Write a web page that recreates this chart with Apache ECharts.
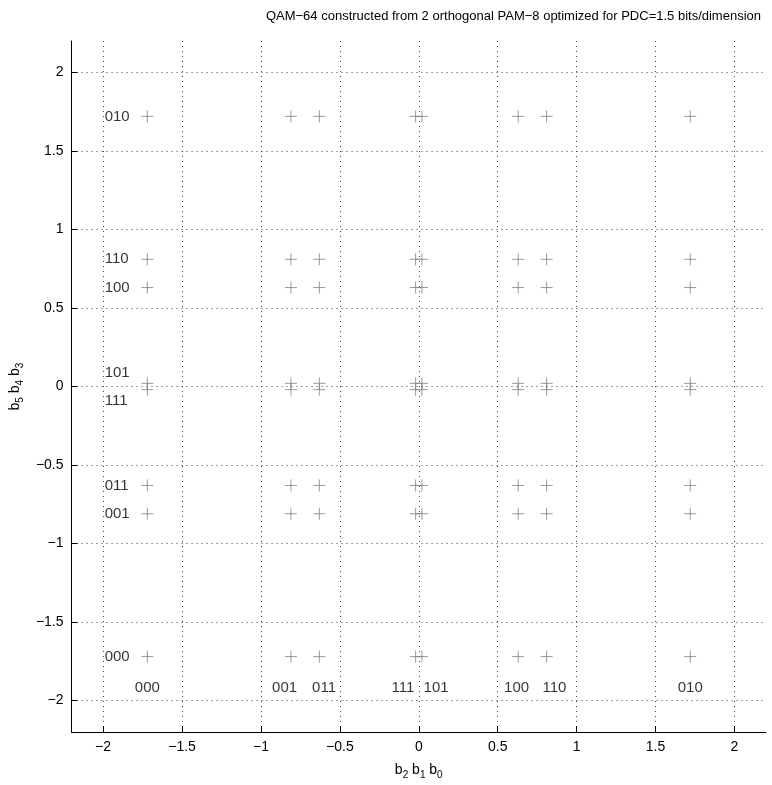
<!DOCTYPE html>
<html lang="en">
<head>
	<meta charset="UTF-8">
	<title>QAM-64 from 2 PAM-8</title>
	<script src="https://cdn.jsdelivr.net/npm/echarts@6/dist/echarts.min.js"></script>
	<style>
		html, body { margin: 0; padding: 0; background: #fff; }
	</style>
</head>
<body>
	<div id="main" style="width: 772px;height:785px;"></div>
	<script type="text/javascript">
	// PAM-8 levels, same on both dimensions
	var pamLevels = [-1.72, -0.81, -0.63, -0.02, 0.02, 0.63, 0.81, 1.72];
	// gray code of each level (b2 b1 b0 for x, b5 b4 b3 for y)
	var grayCodes = ['000', '001', '011', '111', '101', '100', '110', '010'];
	var tickValues = [-2, -1.5, -1, -0.5, 0, 0.5, 1, 1.5, 2];
	// where the code labels sit
	var rowLabelY = [-1.72, -0.81, -0.63, -0.09, 0.09, 0.63, 0.81, 1.72];
	var colLabelX = [-1.72, -0.85, -0.6, -0.1, 0.11, 0.62, 0.86, 1.72];

	var myChart = echarts.init(document.getElementById('main'));

	var points = [];
	pamLevels.forEach(function (x) {
		pamLevels.forEach(function (y) {
			points.push([x, y]);
		});
	});

	var rowLabels = grayCodes.map(function (c, i) { return { value: [-1.99, rowLabelY[i]], name: c }; });
	var colLabels = grayCodes.map(function (c, i) { return { value: [colLabelX[i], -1.92], name: c }; });

	var font = 'Liberation Sans, Arial, sans-serif';
	function fmt(v) { return String(v).replace('-', '\u2212'); }

	var axisCommon = {
		type: 'value',
		min: -2.2,
		max: 2.2,
		axisLine: { onZero: false, lineStyle: { color: '#000', width: 1 } },
		axisTick: { inside: true, length: 6, customValues: tickValues, lineStyle: { color: '#000' } },
		axisLabel: { customValues: tickValues, formatter: fmt, color: '#000', fontSize: 14, fontFamily: font },
		splitLine: { show: true, lineStyle: { color: '#444', type: [1, 4], width: 1 } },
		nameLocation: 'middle',
		nameTextStyle: {
			color: '#000', fontSize: 14, fontFamily: font,
			rich: { s: { fontSize: 10, fontFamily: font, color: '#000', padding: [10, 0, 0, 0] } }
		}
	};

	var option = {
		animation: false,
		backgroundColor: '#fff',
		title: {
			text: 'QAM\u221264 constructed from 2 orthogonal PAM\u22128 optimized for PDC=1.5 bits/dimension',
			right: 6,
			top: 5,
			textStyle: { color: '#000', fontSize: 13, fontWeight: 'normal', fontFamily: font }
		},
		grid: { left: 70, right: 6, top: 41, bottom: 48 },
		xAxis: Object.assign({}, axisCommon, {
			name: 'b{s|2} b{s|1} b{s|0}',
			nameGap: 28
		}),
		yAxis: Object.assign({}, axisCommon, {
			name: 'b{s|5} b{s|4} b{s|3}',
			nameGap: 36,
			nameRotate: 90
		}),
		series: [
			{
				type: 'scatter',
				data: points,
				symbol: 'path://M5,0L5,10M0,5L10,5',
				symbolSize: 12,
				itemStyle: { color: 'none', borderColor: '#808080', borderWidth: 1 }
			},
			{
				type: 'scatter',
				data: rowLabels,
				symbolSize: 0,
				label: {
					show: true, position: 'inside', align: 'left', verticalAlign: 'middle',
					formatter: '{b}', color: '#000', fontSize: 15, fontFamily: font
				}
			},
			{
				type: 'scatter',
				data: colLabels,
				symbolSize: 0,
				label: {
					show: true, position: 'inside', align: 'center', verticalAlign: 'middle',
					formatter: '{b}', color: '#000', fontSize: 15, fontFamily: font
				}
			}
		]
	};
	myChart.setOption(option);
	</script>
</body>
</html>
